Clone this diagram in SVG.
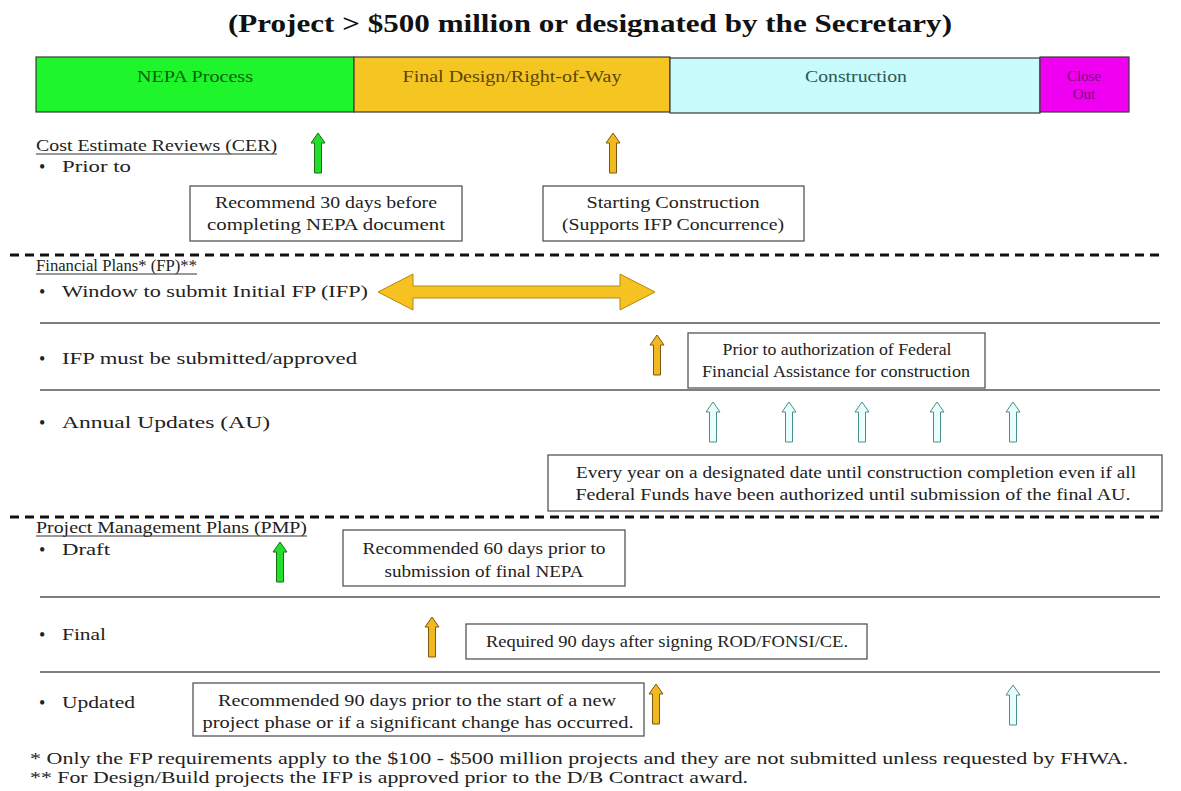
<svg xmlns="http://www.w3.org/2000/svg" width="1181" height="791" viewBox="0 0 1181 791">
<style>
text{font-family:"Liberation Serif","Times New Roman",serif;font-size:16px;fill:#222}
.title{font-size:25px;font-weight:bold;fill:#111}
.c{text-anchor:middle}
.bar{stroke:#3a3a3a;stroke-width:1.2}
.box{fill:#fff;stroke:#555;stroke-width:1.3}
.rule{stroke:#555;stroke-width:1.4}
.dash{stroke:#111;stroke-width:3;stroke-dasharray:9 6}
.ul{stroke:#333;stroke-width:1}
.b{font-size:18px}
.g{fill:#22e02a;stroke:#1a6a1a;stroke-width:1}
.o{fill:#f2b820;stroke:#7a5a10;stroke-width:1}
.cy{fill:#e8fffd;stroke:#4a8f8c;stroke-width:1}
</style>
<defs>
<path id="up" d="M0,0 L7,10 L3.5,10 L3.5,40 L-3.5,40 L-3.5,10 L-7,10 Z"/>
</defs>
<rect width="1181" height="791" fill="#fff"/>
<text class="title c" x="590" y="32" textLength="724" lengthAdjust="spacingAndGlyphs">(Project &gt; $500 million or designated by the Secretary)</text>

<g id="phases">
<g id="nepa"><rect class="bar" x="36" y="57" width="318" height="55" fill="#1ef52a"/><text class="c" x="195" y="82" style="fill:#0b5f12" textLength="116" lengthAdjust="spacingAndGlyphs">NEPA Process</text></g>
<g id="design"><rect class="bar" x="354" y="57" width="316" height="55" fill="#f5c522"/><text class="c" x="512" y="82" style="fill:#5a4606" textLength="219" lengthAdjust="spacingAndGlyphs">Final Design/Right-of-Way</text></g>
<g id="construction"><rect class="bar" x="670" y="58" width="370" height="55" fill="#c8fbfb"/><text class="c" x="856" y="82" style="fill:#2e5858" textLength="102" lengthAdjust="spacingAndGlyphs">Construction</text></g>
<g id="closeout"><rect class="bar" x="1040" y="57" width="89" height="55" fill="#f000f0"/><text class="c" x="1084" y="81" style="fill:#7a0a7a;font-size:15px">Close</text><text class="c" x="1084" y="99" style="fill:#7a0a7a;font-size:15px">Out</text></g>
</g>

<g id="cer">
<text x="36" y="151" textLength="241" lengthAdjust="spacingAndGlyphs">Cost Estimate Reviews (CER)</text>
<line class="ul" x1="36" y1="154" x2="277" y2="154"/>
<text class="b" x="39" y="173">•</text>
<text x="62" y="172" textLength="69" lengthAdjust="spacingAndGlyphs">Prior to</text>
</g>
<g id="cer-box1"><rect class="box" x="190" y="186" width="272" height="55"/>
<text class="c" x="326" y="208" textLength="222" lengthAdjust="spacingAndGlyphs">Recommend 30 days before</text>
<text class="c" x="326" y="230" textLength="238" lengthAdjust="spacingAndGlyphs">completing NEPA document</text></g>
<g id="cer-box2"><rect class="box" x="543" y="186" width="261" height="55"/>
<text class="c" x="673" y="208" textLength="173" lengthAdjust="spacingAndGlyphs">Starting Construction</text>
<text class="c" x="673" y="230" textLength="222" lengthAdjust="spacingAndGlyphs">(Supports IFP Concurrence)</text></g>

<line class="dash" x1="10" y1="255" x2="1165" y2="255"/>

<g id="fp">
<text x="36" y="271" textLength="161" lengthAdjust="spacingAndGlyphs">Financial Plans* (FP)**</text>
<line class="ul" x1="36" y1="274" x2="197" y2="274"/>
<text class="b" x="39" y="298">•</text>
<text x="62" y="297" textLength="306" lengthAdjust="spacingAndGlyphs">Window to submit Initial FP (IFP)</text>
<line class="rule" x1="40" y1="323" x2="1160" y2="323"/>
<text class="b" x="39" y="365">•</text>
<text x="62" y="364" textLength="295" lengthAdjust="spacingAndGlyphs">IFP must be submitted/approved</text>
<line class="rule" x1="40" y1="390" x2="1160" y2="390"/>
<text class="b" x="39" y="429">•</text>
<text x="62" y="428" textLength="208" lengthAdjust="spacingAndGlyphs">Annual Updates (AU)</text>
</g>
<g id="fp-box"><rect class="box" x="688" y="333" width="297" height="55"/>
<text class="c" x="837" y="355" textLength="229" lengthAdjust="spacingAndGlyphs">Prior to authorization of Federal</text>
<text class="c" x="836" y="377" textLength="268" lengthAdjust="spacingAndGlyphs">Financial Assistance for construction</text></g>
<g id="au-box"><rect class="box" x="548" y="455" width="614" height="56"/>
<text class="c" x="856" y="478" textLength="560" lengthAdjust="spacingAndGlyphs">Every year on a designated date until construction completion even if all</text>
<text class="c" x="853" y="500" textLength="555" lengthAdjust="spacingAndGlyphs">Federal Funds have been authorized until submission of the final AU.</text></g>

<line class="dash" x1="10" y1="517" x2="1165" y2="517"/>

<g id="pmp">
<text x="36" y="533" textLength="271" lengthAdjust="spacingAndGlyphs">Project Management Plans (PMP)</text>
<line class="ul" x1="36" y1="536" x2="307" y2="536"/>
<text class="b" x="39" y="556">•</text>
<text x="62" y="555" textLength="48" lengthAdjust="spacingAndGlyphs">Draft</text>
<line class="rule" x1="40" y1="597" x2="1160" y2="597"/>
<text class="b" x="39" y="641">•</text>
<text x="62" y="640" textLength="44" lengthAdjust="spacingAndGlyphs">Final</text>
<line class="rule" x1="40" y1="672" x2="1160" y2="672"/>
<text class="b" x="39" y="709">•</text>
<text x="62" y="708" textLength="73" lengthAdjust="spacingAndGlyphs">Updated</text>
</g>
<g id="pmp-box1"><rect class="box" x="343" y="530" width="282" height="56"/>
<text class="c" x="484" y="554" textLength="243" lengthAdjust="spacingAndGlyphs">Recommended 60 days prior to</text>
<text class="c" x="484" y="577" textLength="199" lengthAdjust="spacingAndGlyphs">submission of final NEPA</text></g>
<g id="pmp-box2"><rect class="box" x="466" y="624" width="401" height="35"/>
<text class="c" x="667" y="647" textLength="362" lengthAdjust="spacingAndGlyphs">Required 90 days after signing ROD/FONSI/CE.</text></g>
<g id="pmp-box3"><rect class="box" x="193" y="683" width="451" height="53"/>
<text class="c" x="417" y="706" textLength="398" lengthAdjust="spacingAndGlyphs">Recommended 90 days prior to the start of a new</text>
<text class="c" x="418" y="728" textLength="431" lengthAdjust="spacingAndGlyphs">project phase or if a significant change has occurred.</text></g>

<g id="connectors">
<use href="#up" class="g" x="318" y="133"/>
<use href="#up" class="o" x="613" y="133"/>
<path d="M378,292 L413,274 L413,286 L620,286 L620,274 L655,292 L620,310 L620,298 L413,298 L413,310 Z" style="fill:#f5c222;stroke:#b08a10;stroke-width:1"/>
<use href="#up" class="o" x="657" y="335"/>
<use href="#up" class="cy" x="713" y="402"/>
<use href="#up" class="cy" x="789" y="402"/>
<use href="#up" class="cy" x="862" y="402"/>
<use href="#up" class="cy" x="937" y="402"/>
<use href="#up" class="cy" x="1013" y="402"/>
<use href="#up" class="g" x="280" y="542"/>
<use href="#up" class="o" x="432" y="617"/>
<use href="#up" class="o" x="656" y="684"/>
<use href="#up" class="cy" x="1013" y="685"/>
</g>

<g id="notes">
<text x="30" y="764" textLength="1098" lengthAdjust="spacingAndGlyphs">* Only the FP requirements apply to the $100 - $500 million projects and they are not submitted unless requested by FHWA.</text>
<text x="30" y="783" textLength="718" lengthAdjust="spacingAndGlyphs">** For Design/Build projects the IFP is approved prior to the D/B Contract award.</text>
</g>
</svg>
